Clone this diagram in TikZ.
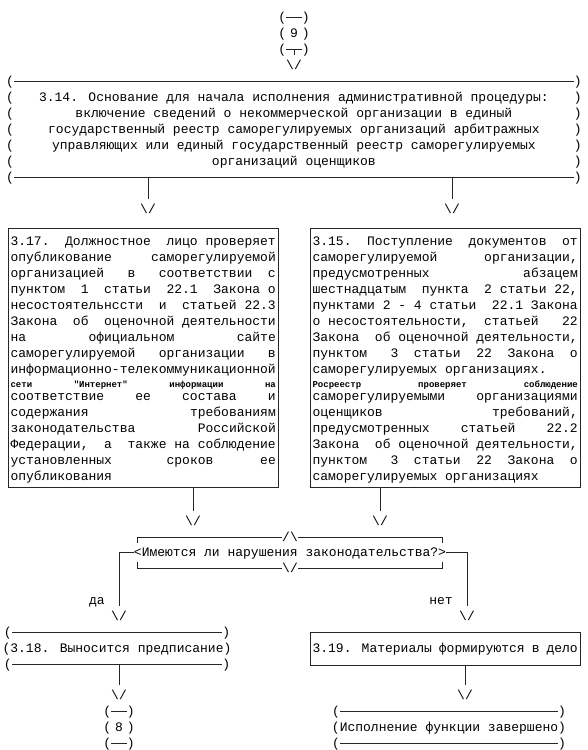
\documentclass[tikz,border=0pt]{standalone}
\usepackage{fontspec}
\newfontfamily\mono{Liberation Mono}
\newlength\cw
\newlength\lw
\settowidth\cw{\mono\fontsize{13}{16}\selectfont 0}
\setlength\lw{34\cw}
\newcommand\jl[1]{\hbox to \lw{\spaceskip=1\cw plus 1fil minus 2pt\relax #1}}
\newcommand\rl[1]{\hbox to \lw{\spaceskip=1\cw\relax #1\hfil}}
\newcommand\smj[1]{\hbox to \lw{\bfseries\fontsize{9}{12}\selectfont\spaceskip=5pt plus 1fil\relax #1}}
\newcommand\prow[4]{\node[ch] (#1-l) at (#2,#4) {(}; \node[ch] (#1-r) at (#3,#4) {)};}
\begin{document}
\begin{tikzpicture}[x=1pt,y=-1pt,
  ch/.style={font=\mono\fontsize{13}{16}\selectfont, inner sep=0pt, text height=10pt, text depth=2pt},
  ln/.style={draw=black!85, line width=0.9pt},
  boxr/.style={draw=black!85, line width=0.9pt, minimum width=270pt, inner sep=0pt},
  para/.style={anchor=base west, inner sep=0pt, font=\mono\fontsize{13}{16}\selectfont}
]
\useasboundingbox (0,0) rectangle (587,750);

% ---- terminal 9
\prow{t9a}{282.3}{305.7}{17}
\prow{t9b}{282.3}{305.7}{33}
\prow{t9c}{282.3}{305.7}{49}
\node[ch] (t9) at (294,33) {9};
\draw[ln] (t9a-l.east) -- (t9a-r.west);
\draw[ln] (t9c-l.east) -- (t9c-r.west);
\node[ch] (a1) at (294,65) {\textbackslash/};
\draw[ln, shorten >=4pt] (a1 |- t9c-l.center) -- (a1.north);

% ---- box 3.14
\foreach \r [count=\i] in {81,97,113,129,145,161,177} { \prow{b314r\i}{10}{577.8}{\r} }
\draw[ln] (b314r1-l.east) -- (b314r1-r.west);
\draw[ln] (b314r7-l.east) -- (b314r7-r.west);
\node[minimum width=560pt, minimum height=96pt, inner sep=0pt] (b314) at (293.9,129) {};
\node[ch] (b314t1) at (293.9,97) {3.14. Основание для начала исполнения административной процедуры:};
\node[ch] (b314t2) at (293.9,113) {включение сведений о некоммерческой организации в единый};
\node[ch] (b314t3) at (293.9,129) {государственный реестр саморегулируемых организаций арбитражных};
\node[ch] (b314t4) at (293.9,145) {управляющих или единый государственный реестр саморегулируемых};
\node[ch] (b314t5) at (293.9,161) {организаций оценщиков};
\node[ch] (a2) at (148,209) {\textbackslash/};
\node[ch] (a3) at (452,209) {\textbackslash/};
\draw[ln, shorten >=4pt] (b314.south -| a2) -- (a2.north);
\draw[ln, shorten >=4pt] (b314.south -| a3) -- (a3.north);

% ---- box 3.17
\node[boxr, minimum height=259pt] (b317) at (143,357.5) {};
\node[para] (b317t) at (10.38,480) {\vbox{\baselineskip=16pt \lineskip=0pt \lineskiplimit=-20pt
\jl{3.17.~~Должностное~~лицо проверяет}
\jl{опубликование~~~~~саморегулируемой}
\jl{организацией~~~в~~~соответствии~~с}
\jl{пунктом~~1~~статьи~~22.1~~Закона о}
\jl{несостоятельнссти~~и~~статьей 22.3}
\jl{Закона~~об~~оценочной деятельности}
\jl{на~~~~~~~~официальном~~~~~~~~сайте}
\jl{саморегулируемой~~~организации~~~в}
\jl{информационно-телекоммуникационной}
\kern-2pt
\smj{сети "Интернет" информации на}
\kern-3pt
\jl{соответствие~~~~ее~~~~состава~~~~и}
\jl{содержания~~~~~~~~~~~~~требованиям}
\jl{законодательства~~~~~~~~Российской}
\jl{Федерации,~~а~~также на соблюдение}
\jl{установленных~~~~~~~сроков~~~~~~ее}
\rl{опубликования}}};

% ---- box 3.15
\node[boxr, minimum height=259pt] (b315) at (445,357.5) {};
\node[para] (b315t) at (312.38,480) {\vbox{\baselineskip=16pt \lineskip=0pt \lineskiplimit=-20pt
\jl{3.15.~~Поступление~~документов~~от}
\jl{саморегулируемой~~~~~~организации,}
\jl{предусмотренных~~~~~~~~~~~~абзацем}
\jl{шестнадцатым~~пункта~~2 статьи 22,}
\jl{пунктами 2 - 4 статьи~~22.1 Закона}
\jl{о несостоятельности,~~статьей~~~22}
\jl{Закона~~об оценочной деятельности,}
\jl{пунктом~~~3~~статьи~~22~~Закона~~о}
\rl{саморегулируемых организациях.}
\kern-2pt
\smj{Росреестр проверяет соблюдение}
\kern-3pt
\jl{саморегулируемыми~~~~организациями}
\jl{оценщиков~~~~~~~~~~~~~~требований,}
\jl{предусмотренных~~~~статьей~~~~22.2}
\jl{Закона~~об оценочной деятельности,}
\jl{пунктом~~~3~~статьи~~22~~Закона~~о}
\rl{саморегулируемых организациях}}};

\node[ch] (a4) at (193,521) {\textbackslash/};
\node[ch] (a5) at (380,521) {\textbackslash/};
\draw[ln, shorten >=4pt] (b317.south -| a4) -- (a4.north);
\draw[ln, shorten >=4pt] (b315.south -| a5) -- (a5.north);

% ---- decision
\node[ch] (dec) at (290,552) {<Имеются ли нарушения законодательства?>};
\node[ch] (dtop) at (290,537) {/\textbackslash};
\node[ch] (dbot) at (290,568) {\textbackslash/};
\coordinate (dtl) at (137.9,537);
\coordinate (dtr) at (442.1,537);
\coordinate (dbl) at (137.9,568);
\coordinate (dbr) at (442.1,568);
\draw[ln] ([yshift=-6pt]dtl) -- (dtl) -- (dtop.west);
\draw[ln] (dtop.east) -- (dtr) -- ([yshift=-6pt]dtr);
\draw[ln] ([yshift=6pt]dbl) -- (dbl) -- (dbot.west);
\draw[ln] (dbot.east) -- (dbr) -- ([yshift=6pt]dbr);

\node[ch] (a6) at (119,616) {\textbackslash/};
\node[ch] (a7) at (467,616) {\textbackslash/};
\draw[ln, shorten >=4pt] (dec.west) -| (a6.north);
\draw[ln, shorten >=4pt] (dec.east) -| (a7.north);
\node[ch] (lda) at (97,600) {да};
\node[ch] (lnet) at (441,600) {нет};

% ---- terminal 3.18
\prow{t318a}{7.8}{226.2}{632}
\node[ch] (t318) at (117,648) {(3.18. Выносится предписание)};
\prow{t318c}{7.8}{226.2}{664}
\draw[ln] (t318a-l.east) -- (t318a-r.west);
\draw[ln] (t318c-l.east) -- (t318c-r.west);
\node[ch] (a8) at (119,695) {\textbackslash/};
\draw[ln, shorten >=4pt] (t318c-l.center -| a8) -- (a8.north);

% ---- terminal 8
\prow{t8a}{107.3}{130.7}{711}
\prow{t8b}{107.3}{130.7}{727}
\prow{t8c}{107.3}{130.7}{743}
\node[ch] (t8) at (119,727) {8};
\draw[ln] (t8a-l.east) -- (t8a-r.west);
\draw[ln] (t8c-l.east) -- (t8c-r.west);

% ---- box 3.19
\node[boxr, minimum height=33pt] (b319) at (445,648.5) {};
\node[para] (b319t) at (312.38,652) {\jl{3.19. Материалы формируются в дело}};
\node[ch] (a9) at (465,695) {\textbackslash/};
\draw[ln, shorten >=4pt] (b319.south -| a9) -- (a9.north);

% ---- terminal end
\prow{tea}{335.9}{562.1}{711}
\node[ch] (tend) at (449,727) {(Исполнение функции завершено)};
\prow{tec}{335.9}{562.1}{743}
\draw[ln] (tea-l.east) -- (tea-r.west);
\draw[ln] (tec-l.east) -- (tec-r.west);
\end{tikzpicture}
\end{document}
